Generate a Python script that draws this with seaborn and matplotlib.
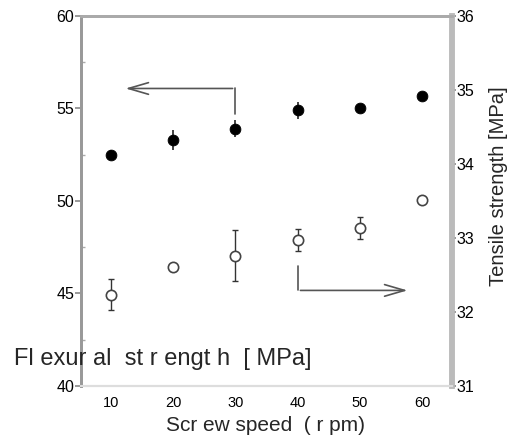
import numpy as np
import pandas as pd
import matplotlib
matplotlib.use("Agg")
import matplotlib.pyplot as plt
import seaborn as sns

speed = [10, 20, 30, 40, 50, 60]
flexural = [52.5, 53.3, 53.9, 54.9, 55.05, 55.7]
flexural_err = [0.25, 0.55, 0.45, 0.45, 0.15, 0.1]
tensile = [32.23, 32.6, 32.76, 32.97, 33.13, 33.51]
tensile_err = [0.21, 0.05, 0.34, 0.15, 0.15, 0.03]

left_ticks = [40, 45, 50, 55, 60]
right_ticks = [31, 32, 33, 34, 35, 36]
x_ticks = [10, 20, 30, 40, 50, 60]

sns.set_theme(style="white")
plt.rcParams['font.family'] = ['Liberation Sans', 'DejaVu Sans']

fig = plt.figure(figsize=(5.16, 4.44), dpi=100)
ax = fig.add_axes([0.157, 0.131, 0.719, 0.833])
ax2 = ax.twinx()

df1 = pd.DataFrame({"speed": speed, "val": flexural})
df2 = pd.DataFrame({"speed": speed, "val": tensile})

ax.errorbar(speed, flexural, yerr=flexural_err, fmt="none", ecolor="#222222",
            elinewidth=1.2, capsize=0, zorder=2)
sns.scatterplot(data=df1, x="speed", y="val", ax=ax, s=60, color="black",
                edgecolor="black", marker="o", zorder=3, legend=False)

ax2.errorbar(speed, tensile, yerr=tensile_err, fmt="none", ecolor="#333333",
             elinewidth=1.0, capsize=2, zorder=2)
sns.scatterplot(data=df2, x="speed", y="val", ax=ax2, s=55, facecolor="white",
                edgecolor="#444444", linewidth=1.2, marker="o", zorder=3, legend=False)

ax.set_xlim(5.2, 64.8)
ax.set_ylim(40, 60)
ax2.set_ylim(31, 36)
ax.set_xticks(x_ticks)
ax.set_yticks(left_ticks)
ax2.set_yticks(right_ticks)
ax.set_yticks([42.5, 47.5, 52.5, 57.5], minor=True)

ax.tick_params(axis="both", which="major", direction="out", length=4, width=1.2,
               color="#888888", labelsize=11.5, pad=1, labelcolor="black")
ax.tick_params(axis="x", labelsize=10.5, pad=3)
ax.tick_params(axis="y", which="minor", direction="in", length=3, color="#aaaaaa", left=True)
ax2.tick_params(axis="y", direction="out", length=3, width=1.2, color="#888888",
                labelsize=11.5, pad=0, labelcolor="black")

for a in (ax, ax2):
    a.spines["left"].set_color("#999999")
    a.spines["left"].set_linewidth(2)
    a.spines["top"].set_color("#aaaaaa")
    a.spines["top"].set_linewidth(2)
    a.spines["right"].set_color("#bbbbbb")
    a.spines["right"].set_linewidth(4)
    a.spines["bottom"].set_color("#dddddd")
    a.spines["bottom"].set_linewidth(1.5)

ax.set_xlabel("")
ax.set_ylabel("")
ax2.set_ylabel("")
fig.text(266 / 516, 1 - 425 / 444, "Scr ew speed  ( r pm)", fontsize=15,
         ha="center", va="center")
fig.text(499 / 516, 1 - 186 / 444, "Tensile strength [MPa]", fontsize=14.5,
         rotation=90, ha="center", va="center")
fig.text(14 / 516, 1 - 359 / 444, "Fl exur al  st r engt h  [ MPa]", fontsize=17,
         ha="left", va="center", zorder=5)

# arrows
ax.plot([30, 30], [54.7, 56.08], color="#555555", lw=1.2)
ax.annotate("", xy=(11.9, 56.08), xytext=(30, 56.08),
            arrowprops=dict(arrowstyle="->,head_length=1.2,head_width=0.35",
                            color="#555555", lw=1.2))
ax.plot([40, 40], [46.5, 45.16], color="#555555", lw=1.2)
ax.annotate("", xy=(58.1, 45.16), xytext=(40, 45.16),
            arrowprops=dict(arrowstyle="->,head_length=1.2,head_width=0.35",
                            color="#555555", lw=1.2))

fig.savefig("out.png", dpi=100)
